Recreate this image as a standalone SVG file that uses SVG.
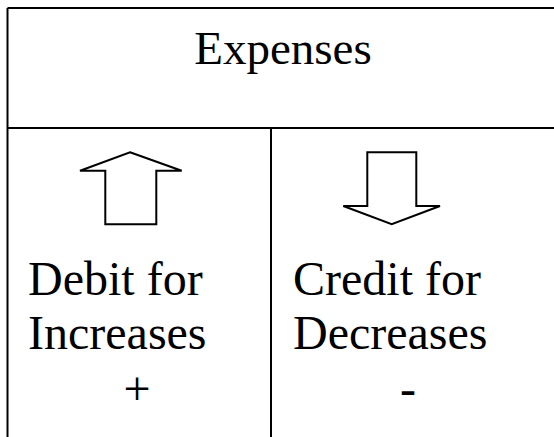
<svg xmlns="http://www.w3.org/2000/svg" width="554" height="437" viewBox="0 0 554 437">
<style>
.ln{stroke:#000;stroke-width:2;fill:none}
.ar{stroke:#000;stroke-width:2;fill:#fff;stroke-linejoin:miter}
.t{font-family:"Liberation Serif","Times New Roman",serif;font-size:48px;fill:#000}
</style>
<rect width="554" height="437" fill="#fff"/>
<g id="connectors">
<path class="ln" d="M7.5,8 H554 M7.5,8 V437 M7.5,128 H554 M271,128 V437"/>
</g>
<g id="title"><text class="t" x="283" y="63.5" text-anchor="middle" style="font-size:47px">Expenses</text></g>
<g id="debit">
<polygon class="ar" points="130,152.3 181.7,170.7 156.3,170.7 156.3,224.3 105.3,224.3 105.3,170.7 80,170.7"/>
<text class="t" x="28" y="295">Debit for</text>
<text class="t" x="28" y="349">Increases</text>
<text class="t" x="137" y="405" text-anchor="middle">+</text>
</g>
<g id="credit">
<polygon class="ar" points="367.3,152.3 416.3,152.3 416.3,206 440,206 391.7,224.3 343.3,206 367.3,206"/>
<text class="t" x="293" y="294.5">Credit for</text>
<text class="t" x="293" y="349">Decreases</text>
<text class="t" x="408" y="404.5" text-anchor="middle">-</text>
</g>
</svg>
